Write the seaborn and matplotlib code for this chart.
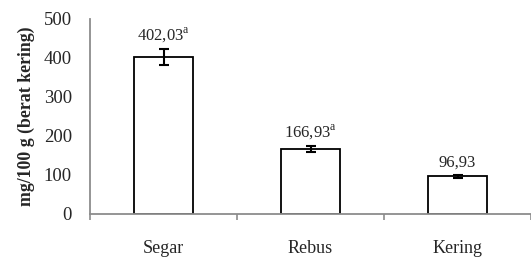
import matplotlib
matplotlib.use("Agg")
import matplotlib.pyplot as plt
import seaborn as sns
import pandas as pd
from matplotlib.ticker import FixedLocator

categories = ["Segar", "Rebus", "Kering"]
values = [402.03, 166.93, 96.93]
errors = [20, 8, 4]
labels = ["402,03$^{\\mathrm{a}}$", "166,93$^{\\mathrm{a}}$", "96,93"]
yticks = [0, 100, 200, 300, 400, 500]

sns.set_style("white")
plt.rcParams["font.family"] = ["Liberation Serif", "DejaVu Serif"]
plt.rcParams["mathtext.fontset"] = "custom"
plt.rcParams["mathtext.rm"] = "Liberation Serif"

df = pd.DataFrame({"cat": categories, "val": values})

fig = plt.figure(figsize=(5.31, 2.59), dpi=100)
ax = fig.add_axes([0.1695, 0.174, 0.8305, 0.753])

sns.barplot(data=df, x="cat", y="val", ax=ax, color="white",
            edgecolor="black", linewidth=1.3, width=0.4, saturation=1)
ax.errorbar(range(len(categories)), values, yerr=errors, fmt="none",
            ecolor="black", elinewidth=1.5, capsize=3.3, capthick=1.5)

for i, (v, e, lab) in enumerate(zip(values, errors, labels)):
    ax.text(i, v + e + 10, lab, ha="center", va="bottom", fontsize=12)

ax.set_ylim(0, 500)
ax.set_xlim(-0.5, 2.5)
ax.set_yticks(yticks)
ax.set_yticklabels([str(t) for t in yticks], fontsize=13.5)
ax.tick_params(axis="y", length=0, pad=13)
ax.tick_params(axis="x", which="major", length=0, pad=19, labelsize=13)
ax.xaxis.set_minor_locator(FixedLocator([-0.5, 0.5, 1.5, 2.5]))
ax.tick_params(axis="x", which="minor", length=4, width=1.2, color="#8c8c8c", direction="out", bottom=True)
ax.set_xlabel("")
ax.set_ylabel("mg/100 g (berat kering)", fontsize=12.8, fontweight="bold", labelpad=6)

for s in ["top", "right"]:
    ax.spines[s].set_visible(False)
for s in ["left", "bottom"]:
    ax.spines[s].set_color("#8c8c8c")
    ax.spines[s].set_linewidth(1.3)

fig.savefig("out.png", dpi=100)
